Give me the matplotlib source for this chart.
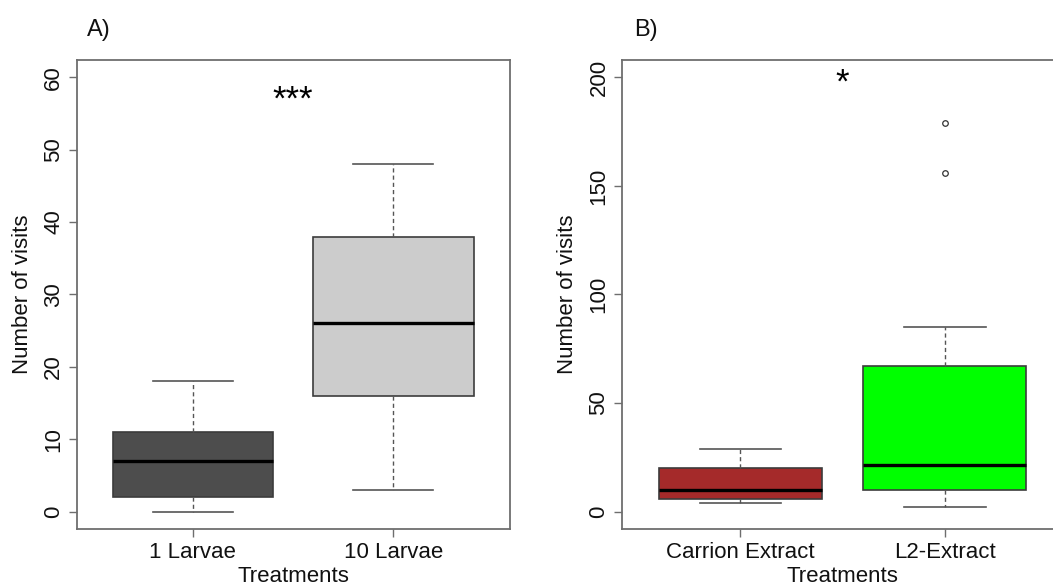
import matplotlib
matplotlib.use('Agg')
import matplotlib.pyplot as plt

plt.rcParams['font.family'] = ['Liberation Sans', 'DejaVu Sans']

# ---- Panel A data ----
a_labels = ['1 Larvae', '10 Larvae']
a_whislo = [0, 3]
a_q1 = [2, 16]
a_med = [7, 26]
a_q3 = [11, 38]
a_whishi = [18, 48]
a_fliers = [[], []]
a_colors = ['#4d4d4d', '#cccccc']
a_yticks = [0, 10, 20, 30, 40, 50, 60]

# ---- Panel B data ----
b_labels = ['Carrion Extract', 'L2-Extract']
b_whislo = [4, 2]
b_q1 = [6, 10]
b_med = [10, 21.5]
b_q3 = [20, 67]
b_whishi = [29, 85]
b_fliers = [[], [156, 179]]
b_colors = ['#a52a2a', '#00ff00']
b_yticks = [0, 50, 100, 150, 200]

AX_COL = '#6e6e6e'
FS = 16


def panel(ax, labels, lo, q1, med, q3, hi, fliers, colors, ylim, yticks,
          star, stary, title, titlex):
    stats = [dict(label=l, whislo=w0, q1=a, med=m, q3=b, whishi=w1, fliers=f)
             for l, w0, a, m, b, w1, f in zip(labels, lo, q1, med, q3, hi, fliers)]
    bp = ax.bxp(stats, positions=[1, 2], widths=0.8, capwidths=0.4,
                patch_artist=True, showfliers=True,
                boxprops=dict(edgecolor='#3c3c3c', linewidth=1.2),
                whiskerprops=dict(color='#555555', linestyle=(0, (3, 2.2)), linewidth=1.0),
                capprops=dict(color='#555555', linewidth=1.2),
                medianprops=dict(color='black', linewidth=2.4, solid_capstyle='butt'),
                flierprops=dict(marker='o', markerfacecolor='none',
                                markeredgecolor='#333333', markersize=4,
                                markeredgewidth=0.9))
    for patch, c in zip(bp['boxes'], colors):
        patch.set_facecolor(c)
    ax.set_xlim(0.42, 2.58)
    ax.set_ylim(*ylim)
    ax.set_yticks(yticks)
    ax.set_xticks([1, 2])
    ax.set_xticklabels(labels)
    for s in ax.spines.values():
        s.set_color(AX_COL)
        s.set_linewidth(1.3)
    ax.tick_params(axis='both', direction='out', length=6, width=1.0,
                   color=AX_COL, labelsize=FS, labelcolor='#111111')
    ax.tick_params(axis='y', pad=3.0, labelrotation=90)
    ax.tick_params(axis='x', pad=3)
    for lbl in ax.get_yticklabels():
        lbl.set_va('center')
    ax.set_ylabel('Number of visits', fontsize=FS, labelpad=7.5, color='#111111')
    ax.set_xlabel('Treatments', fontsize=FS, labelpad=2.5, color='#111111')
    ax.text(1.5, stary, star, ha='center', va='baseline', fontsize=25)
    ax.figure.text(titlex, 1 - 36 / 587, title, ha='left', va='baseline',
                   fontsize=17, color='#111111')


fig = plt.figure(figsize=(10.53, 5.87), dpi=100)
axA = fig.add_axes([0.0728, 0.0988, 0.4112, 0.799])
axB = fig.add_axes([0.5907, 0.0988, 0.419, 0.799])

panel(axA, a_labels, a_whislo, a_q1, a_med, a_q3, a_whishi, a_fliers, a_colors,
      (-2.4, 62.4), a_yticks, '***', 55.6, 'A)', 87 / 1053)
panel(axB, b_labels, b_whislo, b_q1, b_med, b_q3, b_whishi, b_fliers, b_colors,
      (-8, 208), b_yticks, '*', 193.0, 'B)', 634 / 1053)

fig.savefig('out.png', dpi=100)
